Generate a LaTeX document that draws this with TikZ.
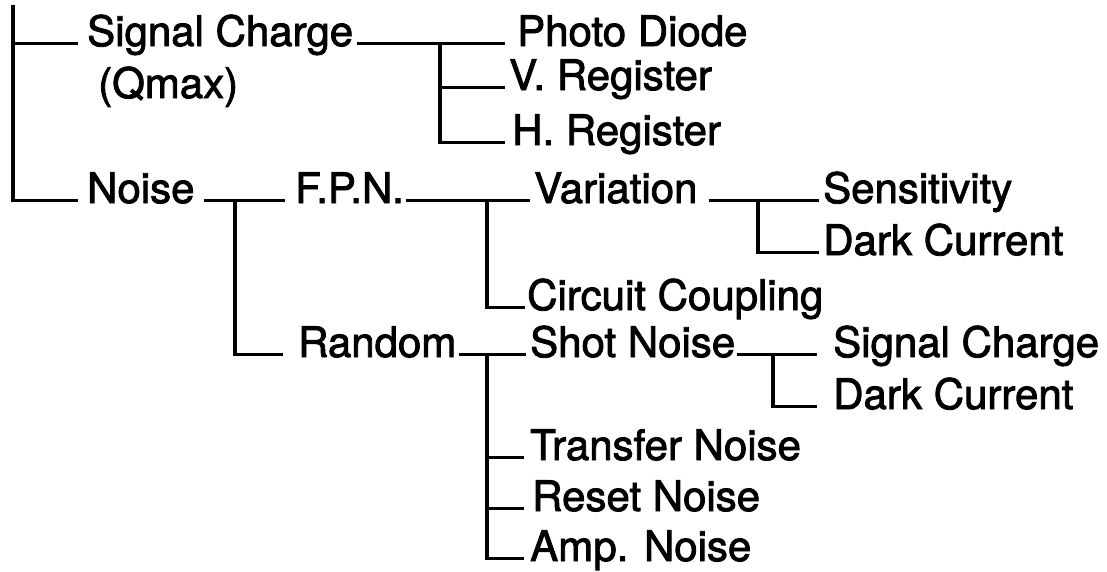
\documentclass[tikz,border=0pt]{standalone}
\usepackage{fontspec}
\setmainfont[FakeBold=2]{TeX Gyre Heros}
\begin{document}
\begin{tikzpicture}[x=1pt,y=-1pt,
  lbl/.style={inner sep=0pt, anchor=base west, font=\fontsize{42}{48}\selectfont},
  conn/.style={line width=3.6pt}]
\useasboundingbox[fill=white] (0,0) rectangle (1107,571);
% labels
\node[lbl] (sig)   at (87,46)   {Signal Charge};
\node[lbl] (qmax)  at (98,98)   {(Qmax)};
\node[lbl] (pd)    at (517,46)  {Photo Diode};
\node[lbl] (vr)    at (509,90)  {V. Register};
\node[lbl] (hr)    at (512,145) {H. Register};
\node[lbl] (noise) at (87,203)  {Noise};
\node[lbl] (fpn)   at (295,203) {F.P.N.};
\node[lbl] (var)   at (534,203) {Variation};
\node[lbl] (sens)  at (823,203) {Sensitivity};
\node[lbl] (dca)   at (823,255) {Dark Current};
\node[lbl] (cc)    at (527,310) {Circuit Coupling};
\node[lbl] (rand)  at (298,357) {Random};
\node[lbl] (shot)  at (530,357) {Shot Noise};
\node[lbl] (scb)   at (833,357) {Signal Charge};
\node[lbl] (dcb)   at (833,409) {Dark Current};
\node[lbl] (tn)    at (530,460) {Transfer Noise};
\node[lbl] (rn)    at (532,511) {Reset Noise};
\node[lbl] (an)    at (530,561) {Amp. Noise};
% junction columns
\coordinate (top) at (13,5);
\coordinate (ta) at (440,0);
\coordinate (tb) at (235,0);
\coordinate (tc) at (487,0);
\coordinate (td) at (758,0);
\coordinate (te) at (487,0);
\coordinate (tf) at (773,0);
% root
\draw[conn] (top) |- ([xshift=-9pt]noise.mid west);
\draw[conn] (top |- sig.mid west) -- ([xshift=-9pt]sig.mid west);
% signal charge
\draw[conn] ([xshift=4pt]sig.mid east) -- ([xshift=-12pt]pd.mid west);
\draw[conn] (ta |- pd.mid west) |- ([xshift=-7pt]hr.mid west);
\draw[conn] (ta |- vr.mid west) -- ([xshift=-4pt]vr.mid west);
% noise
\draw[conn] ([xshift=9pt]noise.mid east) -- ([xshift=-10pt]fpn.mid west);
\draw[conn] (tb |- noise.mid east) |- ([xshift=-15pt]rand.mid west);
% fpn
\draw[conn] ([xshift=2pt]fpn.mid east) -- ([xshift=-4pt]var.mid west);
\draw[conn] (tc |- var.mid west) |- ([xshift=-2pt]cc.mid west);
% variation
\draw[conn] ([xshift=11pt]var.mid east) -- ([xshift=-4pt]sens.mid west);
\draw[conn] (td |- sens.mid west) |- ([xshift=-4pt]dca.mid west);
% random
\draw[conn] ([xshift=3pt]rand.mid east) -- ([xshift=-4pt]shot.mid west);
\draw[conn] (te |- shot.mid west) |- ([xshift=-6pt]an.mid west);
\draw[conn] (te |- tn.mid west) -- ([xshift=-6pt]tn.mid west);
\draw[conn] (te |- rn.mid west) -- ([xshift=-8pt]rn.mid west);
% shot noise
\draw[conn] ([xshift=2pt]shot.mid east) -- ([xshift=-16pt]scb.mid west);
\draw[conn] (tf |- scb.mid west) |- ([xshift=-16pt]dcb.mid west);
\end{tikzpicture}
\end{document}
